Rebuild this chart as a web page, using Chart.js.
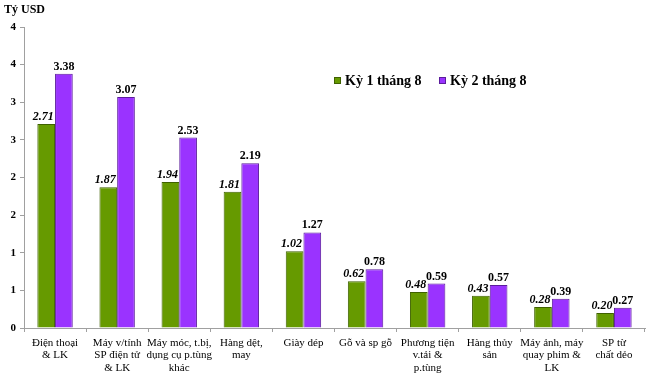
<!DOCTYPE html>
<html>
<head>
<meta charset="utf-8">
<script src="https://cdn.jsdelivr.net/npm/chart.js@4/dist/chart.umd.min.js"></script>
<style>
  body { margin: 0; background: #fff; }
  #wrap { width: 650px; height: 374px; }
</style>
</head>
<body>
<div id="wrap"><canvas id="barChart" width="650" height="374"></canvas></div>
<script>
/* DATA */
const categories = [
    ["Điện thoại", "& LK"],
    ["Máy v/tính", "SP điện tử", "& LK"],
    ["Máy móc, t.bị,", "dụng cụ p.tùng", "khác"],
    ["Hàng dệt,", "may"],
    ["Giày dép"],
    ["Gỗ và sp gỗ"],
    ["Phương tiện", "v.tải &", "p.tùng"],
    ["Hàng thủy", "sản"],
    ["Máy ảnh, máy", "quay phim &", "LK"],
    ["SP từ", "chất dẻo"]
];
const ky1 = [2.71, 1.87, 1.94, 1.81, 1.02, 0.62, 0.48, 0.43, 0.28, 0.20];
const ky2 = [3.38, 3.07, 2.53, 2.19, 1.27, 0.78, 0.59, 0.57, 0.39, 0.27];
const seriesNames = ["Kỳ 1 tháng 8", "Kỳ 2 tháng 8"];
const yTickLabels = ["0", "1", "1", "2", "2", "3", "3", "4", "4"];

const SERIF = "'Liberation Serif', 'DejaVu Serif', serif";
const colors = [
    { fill: "#669a00", border: "#3f6100" },
    { fill: "#9a33ff", border: "#5b1d9c" }
];

/* value labels, legend and unit title */
const extras = {
    id: "extras",
    afterDatasetsDraw(chart) {
        const ctx = chart.ctx;
        ctx.save();
        ctx.fillStyle = "#000";
        ctx.textAlign = "center";
        ctx.textBaseline = "alphabetic";
        chart.data.datasets.forEach((ds, i) => {
            const meta = chart.getDatasetMeta(i);
            ctx.font = (i === 0 ? "italic bold 12px " : "bold 12px ") + SERIF;
            meta.data.forEach((bar, j) => {
                const dx = i === 0 ? -3 : 0;
                ctx.fillText(ds.data[j].toFixed(2), bar.x + dx, bar.y - 4);
            });
        });

        // unit title
        ctx.textAlign = "left";
        ctx.font = "bold 12px " + SERIF;
        ctx.fillText("Tỷ USD", 4, 13);

        // legend
        ctx.font = "bold 14px " + SERIF;
        ctx.textBaseline = "middle";
        const lx = [334, 439];
        seriesNames.forEach((name, i) => {
            ctx.fillStyle = colors[i].fill;
            ctx.fillRect(lx[i], 77, 7, 7);
            ctx.strokeStyle = colors[i].border;
            ctx.lineWidth = 1;
            ctx.strokeRect(lx[i] + 0.5, 77.5, 6, 6);
            ctx.fillStyle = "#000";
            ctx.fillText(name, lx[i] + 11, 81);
        });
        ctx.restore();
    }
};

new Chart(document.getElementById("barChart"), {
    type: "bar",
    data: {
        labels: categories,
        datasets: [{
            label: seriesNames[0],
            data: ky1,
            backgroundColor: colors[0].fill,
            borderColor: colors[0].border,
            borderWidth: 1
        }, {
            label: seriesNames[1],
            data: ky2,
            backgroundColor: colors[1].fill,
            borderColor: colors[1].border,
            borderWidth: 1
        }]
    },
    options: {
        responsive: false,
        animation: false,
        devicePixelRatio: 1,
        layout: { padding: { left: 0, right: 5, top: 27, bottom: 0 } },
        datasets: { bar: { categoryPercentage: 0.57, barPercentage: 1.0 } },
        plugins: {
            legend: { display: false },
            tooltip: { enabled: false }
        },
        scales: {
            x: {
                grid: { offset: true, drawOnChartArea: false, tickLength: 4, color: "#a0a0a0" },
                border: { color: "#a0a0a0" },
                ticks: {
                    color: "#000",
                    font: { family: SERIF, size: 11, lineHeight: 1.12 },
                    padding: 5,
                    maxRotation: 0,
                    autoSkip: false
                },
                afterFit(scale) { scale.height = 46; }
            },
            y: {
                min: 0,
                max: 4,
                grid: { drawOnChartArea: false, tickLength: 4, color: "#a0a0a0" },
                border: { color: "#a0a0a0" },
                ticks: {
                    stepSize: 0.5,
                    color: "#000",
                    padding: 4,
                    font: { family: SERIF, size: 11, weight: "bold" },
                    callback: (v, i) => yTickLabels[i]
                },
                afterFit(scale) { scale.width = 24; }
            }
        }
    },
    plugins: [extras]
});
</script>
</body>
</html>
